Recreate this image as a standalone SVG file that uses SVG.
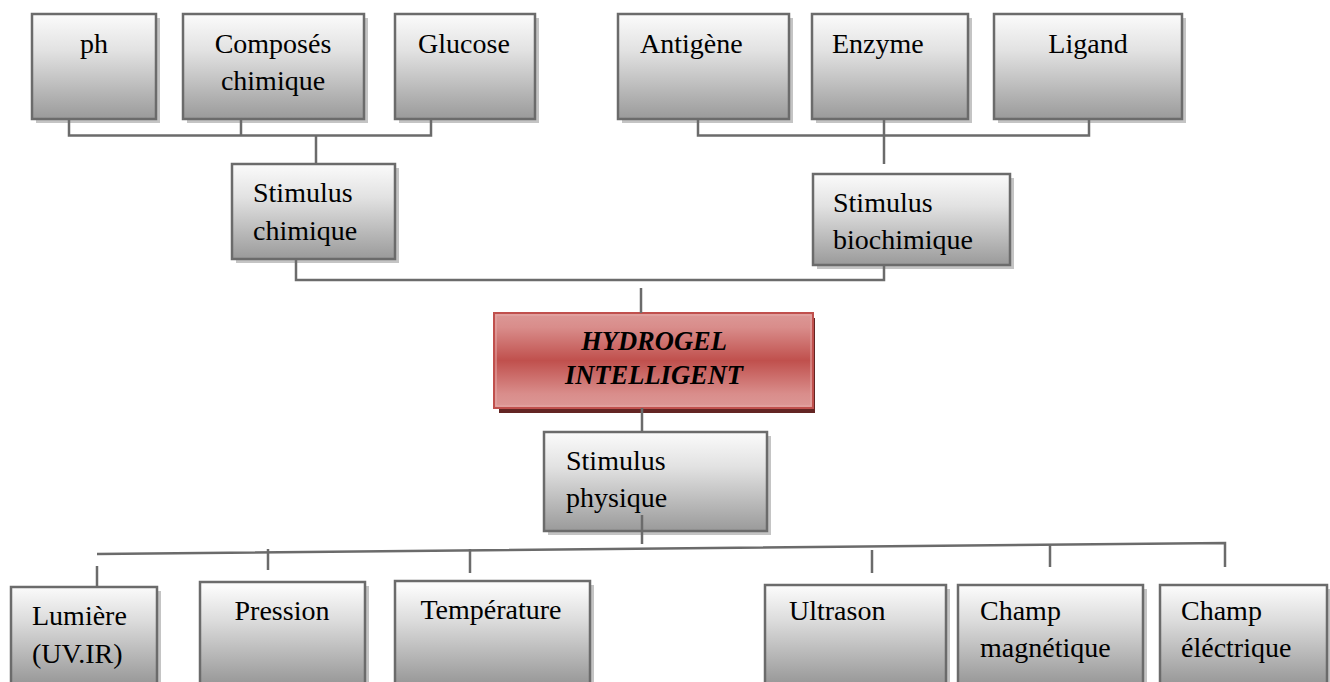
<svg xmlns="http://www.w3.org/2000/svg" width="1330" height="682" viewBox="0 0 1330 682">
<defs>
<linearGradient id="g" x1="0" y1="0" x2="0" y2="1">
<stop offset="0" stop-color="#fbfbfb"/>
<stop offset="0.35" stop-color="#e2e2e2"/>
<stop offset="1" stop-color="#9a9a9a"/>
</linearGradient>
<linearGradient id="gb" x1="0" y1="0" x2="0" y2="682" gradientUnits="userSpaceOnUse">
<stop offset="0.86" stop-color="#fbfbfb"/>
<stop offset="0.91" stop-color="#dcdcdc"/>
<stop offset="1" stop-color="#9a9a9a"/>
</linearGradient>
<linearGradient id="r" x1="0" y1="0" x2="0" y2="1">
<stop offset="0" stop-color="#dc9896"/>
<stop offset="0.15" stop-color="#d98d8b"/>
<stop offset="0.5" stop-color="#c0504d"/>
<stop offset="0.85" stop-color="#d98d8b"/>
<stop offset="1" stop-color="#dc9896"/>
</linearGradient>
<style>
.box{fill:url(#g);stroke:#6b6b6b;stroke-width:2.5}
.boxb{fill:url(#gb);stroke:#6b6b6b;stroke-width:2.5}
.sh{fill:#c4c4c4}
.t{font-family:"Liberation Serif","Times New Roman",serif;font-size:28px;fill:#000}
.c{text-anchor:middle}
.h{font-weight:bold;font-style:italic;font-size:26.5px}
.ln{fill:none;stroke:#6b6b6b;stroke-width:2.5}
</style>
</defs>

<g id="ph"><rect class="sh" x="36" y="18" width="124" height="105"/><rect class="box" x="32" y="14" width="124" height="105"/><text class="t c" x="94" y="53">ph</text></g>
<g id="composes"><rect class="sh" x="187" y="18" width="181" height="105"/><rect class="box" x="183" y="14" width="181" height="105"/><text class="t c" x="273" y="53">Composés</text><text class="t c" x="273" y="90">chimique</text></g>
<g id="glucose"><rect class="sh" x="399" y="18" width="140" height="105"/><rect class="box" x="395" y="14" width="140" height="105"/><text class="t c" x="464" y="53">Glucose</text></g>
<g id="antigene"><rect class="sh" x="622" y="18" width="171" height="105"/><rect class="box" x="618" y="14" width="171" height="105"/><text class="t" x="640" y="53">Antigène</text></g>
<g id="enzyme"><rect class="sh" x="816" y="18" width="156" height="105"/><rect class="box" x="812" y="14" width="156" height="105"/><text class="t" x="832" y="53">Enzyme</text></g>
<g id="ligand"><rect class="sh" x="998" y="18" width="188" height="105"/><rect class="box" x="994" y="14" width="188" height="105"/><text class="t c" x="1088" y="53">Ligand</text></g>

<g id="stim-chimique"><rect class="sh" x="236" y="168" width="163" height="95"/><rect class="box" x="232" y="164" width="163" height="95"/><text class="t" x="253" y="202">Stimulus</text><text class="t" x="253" y="240">chimique</text></g>
<g id="stim-biochimique"><rect class="sh" x="817" y="178" width="197" height="91"/><rect class="box" x="813" y="174" width="197" height="91"/><text class="t" x="833" y="212">Stimulus</text><text class="t" x="833" y="249">biochimique</text></g>

<g id="hydrogel"><rect x="499" y="318" width="316" height="95" fill="#632523"/><rect x="494" y="313" width="319" height="95" fill="url(#r)" stroke="#c0504d" stroke-width="2"/><rect x="496" y="315" width="315" height="91" fill="none" stroke="#e6a9a7" stroke-width="1"/>
<text class="t c h" x="654" y="350">HYDROGEL</text><text class="t c h" x="654" y="384">INTELLIGENT</text></g>

<g id="stim-physique"><rect class="sh" x="548" y="436" width="223" height="99"/><rect class="box" x="544" y="432" width="223" height="99"/><text class="t" x="566" y="470">Stimulus</text><text class="t" x="566" y="507">physique</text></g>

<g id="lumiere"><rect class="sh" x="15" y="591" width="146" height="100"/><rect class="boxb" x="11" y="587" width="146" height="100"/><text class="t" x="32" y="625">Lumière</text><text class="t" x="32" y="663">(UV.IR)</text></g>
<g id="pression"><rect class="sh" x="204" y="586" width="165" height="100"/><rect class="boxb" x="200" y="582" width="165" height="110"/><text class="t c" x="282" y="620">Pression</text></g>
<g id="temperature"><rect class="sh" x="399" y="585" width="195" height="100"/><rect class="boxb" x="395" y="581" width="195" height="110"/><text class="t c" x="491" y="619">Température</text></g>
<g id="ultrason"><rect class="sh" x="769" y="589" width="181" height="100"/><rect class="boxb" x="765" y="585" width="181" height="110"/><text class="t" x="789" y="620">Ultrason</text></g>
<g id="champ-mag"><rect class="sh" x="962" y="589" width="185" height="100"/><rect class="boxb" x="958" y="585" width="185" height="110"/><text class="t" x="980" y="620">Champ</text><text class="t" x="980" y="657">magnétique</text></g>
<g id="champ-elec"><rect class="sh" x="1164" y="589" width="167" height="100"/><rect class="boxb" x="1160" y="585" width="167" height="110"/><text class="t" x="1181" y="620">Champ</text><text class="t" x="1181" y="657">éléctrique</text></g>

<g id="connectors">
<path class="ln" d="M69,119 V135.5 H431 V119 M241,119 V135.5 M316,135.5 V164"/>
<path class="ln" d="M698,119 V135.5 H1089 V119 M884,119 V164"/>
<path class="ln" d="M296,259 V280 H884 V265"/>
<path class="ln" d="M641,288 V313"/>
<path class="ln" d="M642,408 V432 M642,515 V544"/>
<path class="ln" d="M97,554 L1225,543 V567"/>
<path class="ln" d="M97,566 V587 M268,549 V570 M470,549 V573 M872,550 V573 M1050,544 V567"/>
</g>
</svg>
